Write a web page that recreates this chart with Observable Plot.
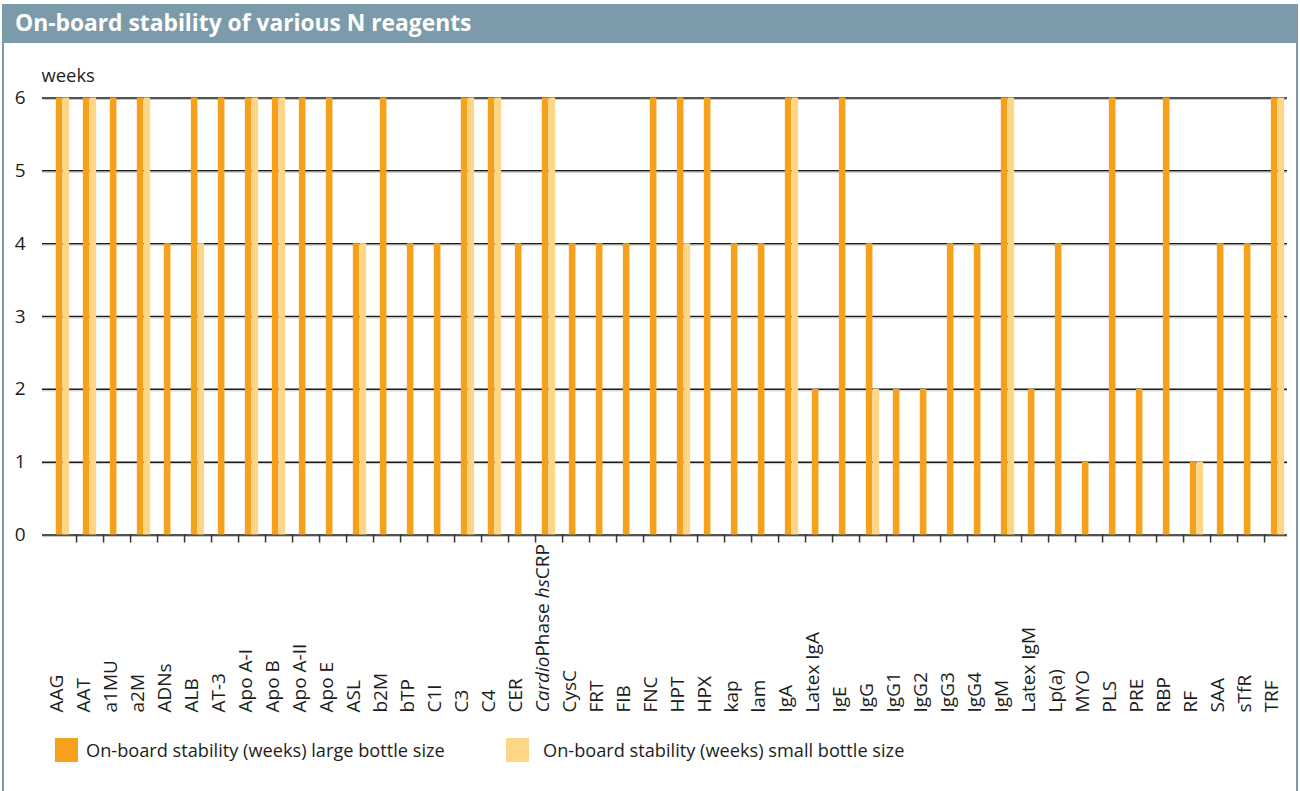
<!DOCTYPE html>
<html><head><meta charset="utf-8">
<script src="https://cdn.jsdelivr.net/npm/d3@7"></script>
<script src="https://cdn.jsdelivr.net/npm/@observablehq/plot@0.6"></script>
<style>
body{margin:0;background:#fff;font-family:"Open Sans",sans-serif;color:#1d1d1b;}
#wrap{position:relative;width:1300px;height:791px;overflow:hidden;}
#frame{position:absolute;left:2px;top:4px;width:1292px;height:800px;border-left:2px solid #7b9bab;border-right:2px solid #7b9bab;}
#title{position:absolute;left:2px;top:4px;width:1296px;height:39px;background:#7b9bab;color:#fff;font-weight:700;font-size:22.8px;line-height:38px;padding-left:13px;box-sizing:border-box;white-space:nowrap;}
#chart{position:absolute;left:0;top:43px;}
.leg{position:absolute;top:738px;height:24px;display:flex;align-items:center;font-size:18.2px;white-space:nowrap;}
.sw{width:23px;height:24px;flex:none;}
</style></head>
<body><div id="wrap">
<div id="frame"></div>
<div id="title">On-board stability of various N reagents</div>
<div id="chart"></div>
<div class="leg" style="left:55px"><div class="sw" style="background:#f5a11c;margin-right:8px"></div><span>On-board stability (weeks) large bottle size</span></div>
<div class="leg" style="left:506px"><div class="sw" style="background:#ffd587;margin-right:14px"></div><span>On-board stability (weeks) small bottle size</span></div>
</div>
<script>
const categories = ["AAG","AAT","a1MU","a2M","ADNs","ALB","AT-3","Apo A-I","Apo B","Apo A-II","Apo E","ASL","b2M","bTP","C1I","C3","C4","CER","CardioPhase hsCRP","CysC","FRT","FIB","FNC","HPT","HPX","kap","lam","IgA","Latex IgA","IgE","IgG","IgG1","IgG2","IgG3","IgG4","IgM","Latex IgM","Lp(a)","MYO","PLS","PRE","RBP","RF","SAA","sTfR","TRF"];
const largeBottle = [6,6,6,6,4,6,6,6,6,6,6,4,6,4,4,6,6,4,6,4,4,4,6,6,6,4,4,6,2,6,4,2,2,4,4,6,2,4,1,6,2,6,1,4,4,6];
const smallBottle = [6,6,null,6,null,4,null,6,6,null,null,4,null,null,null,6,6,null,6,null,null,null,null,4,null,null,null,6,null,null,2,null,null,null,null,6,null,null,null,null,null,null,1,null,null,6];
const yTicks = [0,1,2,3,4,5,6];
const yLabel = "weeks";
const colors = {large:"#f5a11c", small:"#ffd587"};

const largeData = categories.map((c,i)=>({cat:c, v:largeBottle[i]})).filter(d=>d.v!=null);
const smallData = categories.map((c,i)=>({cat:c, v:smallBottle[i]})).filter(d=>d.v!=null);

const x0 = 45.6, x1 = 1293.4;
const bw = (x1 - x0) / categories.length;
const barW = 6.7;

const chart = Plot.plot({
  width: 1300,
  height: 680,
  marginLeft: 42,
  marginRight: 13,
  marginTop: 54.5,
  marginBottom: 188.5,
  style: {fontFamily: '"Open Sans", sans-serif', color: "#1d1d1b", background: "transparent"},
  x: {type: "band", domain: categories, range: [x0, x1], padding: 0},
  y: {domain: [0, 6]},
  marks: [
    Plot.ruleY(yTicks, {stroke: "#1a1a1a", strokeWidth: 1.5}),
    Plot.ruleY(yTicks, {stroke: "#c8c8c8", strokeWidth: 1, dy: 1.5}),
    Plot.barY(largeData, {x: "cat", y: "v", fill: colors.large, insetLeft: bw/2 - barW, insetRight: bw/2}),
    Plot.barY(smallData, {x: "cat", y: "v", fill: colors.small, insetLeft: bw/2, insetRight: bw/2 - barW}),
    Plot.axisY({ticks: yTicks, tickSize: 0, tickPadding: 17, fontSize: 19, label: null, tickFormat: d=>String(d)}),
    Plot.axisX({ticks: categories.slice(0, -1), tickSize: 8, text: null, dx: bw/2, stroke: "#333", strokeWidth: 1.5, label: null}),
    Plot.text(categories, {x: d=>d, frameAnchor: "bottom", dy: 177.5, rotate: -90, textAnchor: "start", fontSize: 19, fill: "#1d1d1b"}),
    Plot.text([yLabel], {frameAnchor: "top-left", dx: -1, dy: -16, textAnchor: "start", lineAnchor: "bottom", fontSize: 18.4, fill: "#1d1d1b"})
  ]
});
document.getElementById("chart").appendChild(chart);

// italic parts of the CardioPhase label
chart.querySelectorAll("text").forEach(t => {
  if (t.textContent === "CardioPhase hsCRP") {
    t.textContent = "";
    [["Cardio", true], ["Phase ", false], ["hs", true], ["CRP", false]].forEach(([s, it]) => {
      const ts = document.createElementNS("http://www.w3.org/2000/svg", "tspan");
      ts.textContent = s;
      if (it) ts.setAttribute("font-style", "italic");
      t.appendChild(ts);
    });
  }
});
</script>
</body></html>
